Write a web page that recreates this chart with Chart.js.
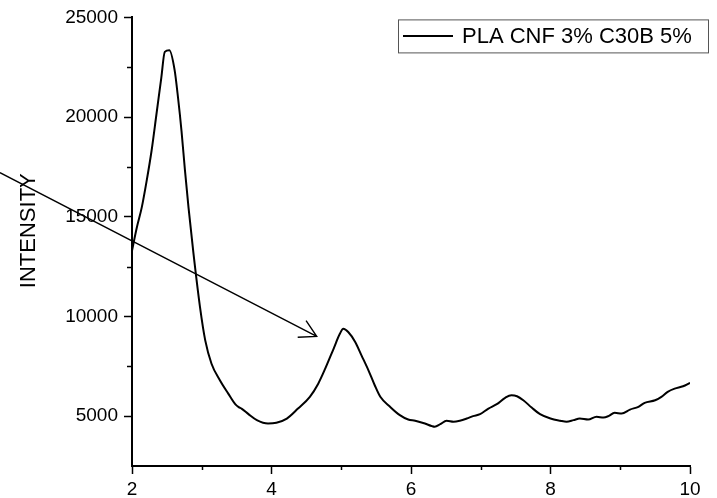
<!DOCTYPE html>
<html lang="en">
<head>
    <meta charset="UTF-8">
    <title>PLA CNF 3% C30B 5%</title>
    <script src="https://cdn.jsdelivr.net/npm/chart.js@4.4.1/dist/chart.umd.min.js"></script>
    <style>
        html, body {
            margin: 0;
            padding: 0;
            background: #fff;
        }
        #wrap {
            width: 717px;
            height: 498px;
        }
    </style>
</head>
<body>
    <div id="wrap"><canvas id="xrdChart" width="717" height="498"></canvas></div>

    <script>
        // data
        const seriesLabel = 'PLA CNF 3% C30B 5%';
        const yTitle = 'INTENSITY';
        const xValues = [2.00, 2.07, 2.14, 2.21, 2.28, 2.35, 2.42, 2.47, 2.535, 2.61, 2.66, 2.71, 2.76, 2.81, 2.88,
            2.975, 3.05, 3.14, 3.26, 3.38, 3.48, 3.53, 3.57, 3.67, 3.79, 3.95, 4.07, 4.22, 4.38, 4.55, 4.67, 4.77,
            4.89, 4.98, 5.03, 5.10, 5.20, 5.29, 5.39, 5.48, 5.56, 5.70, 5.84, 5.96, 6.06, 6.20, 6.30, 6.34, 6.42,
            6.51, 6.61, 6.70, 6.80, 6.89, 6.99, 7.11, 7.23, 7.35, 7.44, 7.52, 7.61, 7.73, 7.85, 8.00, 8.14, 8.23,
            8.33, 8.42, 8.54, 8.66, 8.76, 8.83, 8.92, 9.02, 9.14, 9.26, 9.35, 9.50, 9.59, 9.68, 9.78, 9.90, 10.00];
        const yValues = [13300, 14470, 15470, 16800, 18300, 20130, 21970, 23270, 23350, 22380, 20970, 19300, 17300, 15470, 13200,
            10470, 8800, 7630, 6800, 6130, 5600, 5450, 5380, 5100, 4800, 4630, 4670, 4880, 5380, 5970, 6630, 7380,
            8380, 9130, 9380, 9220, 8720, 8050, 7300, 6550, 5970, 5470, 5050, 4830, 4770, 4630, 4500, 4470, 4600,
            4770, 4720, 4770, 4880, 5000, 5100, 5380, 5600, 5920, 6050, 6000, 5800, 5430, 5100, 4880, 4770, 4720,
            4800, 4880, 4830, 4970, 4930, 5000, 5170, 5130, 5330, 5470, 5670, 5800, 5970, 6220, 6380, 6500, 6670];

        const xMajorTicks = [2, 4, 6, 8, 10];
        const xMinorTicks = [3, 5, 7, 9];
        const yMajorTicks = [5000, 10000, 15000, 20000, 25000];
        const yMinorTicks = [7500, 12500, 17500, 22500];

        // arrow annotation: [x, y] start and end in data units
        const arrowFrom = [0.107, 17215];
        const arrowTo = [4.648, 9000];

        const fontFamily = 'Arial, "Liberation Sans", sans-serif';
        Chart.defaults.font.family = fontFamily;
        Chart.defaults.color = '#000';

        // minor ticks, axis title, arrow and boxed legend
        const extrasPlugin = {
            id: 'extras',
            afterDraw(chart) {
                const ctx = chart.ctx;
                const xs = chart.scales.x;
                const ys = chart.scales.y;
                const area = chart.chartArea;

                ctx.save();
                ctx.strokeStyle = '#000';
                ctx.lineWidth = 1.5;
                yMinorTicks.forEach(v => {
                    const py = Math.round(ys.getPixelForValue(v)) + 0.5;
                    ctx.beginPath();
                    ctx.moveTo(area.left - 5, py);
                    ctx.lineTo(area.left, py);
                    ctx.stroke();
                });
                xMinorTicks.forEach(v => {
                    const px = Math.round(xs.getPixelForValue(v)) + 0.5;
                    ctx.beginPath();
                    ctx.moveTo(px, area.bottom);
                    ctx.lineTo(px, area.bottom + 4);
                    ctx.stroke();
                });

                // y axis title
                ctx.save();
                ctx.translate(29, (area.top + area.bottom) / 2 - 11);
                ctx.rotate(-Math.PI / 2);
                ctx.fillStyle = '#000';
                ctx.font = '22px ' + fontFamily;
                ctx.textAlign = 'center';
                ctx.textBaseline = 'middle';
                ctx.fillText(yTitle, 0, 0);
                ctx.restore();

                // arrow
                const x0 = xs.getPixelForValue(arrowFrom[0]);
                const y0 = ys.getPixelForValue(arrowFrom[1]);
                const x1 = xs.getPixelForValue(arrowTo[0]);
                const y1 = ys.getPixelForValue(arrowTo[1]);
                const ang = Math.atan2(y1 - y0, x1 - x0);
                const head = 19;
                ctx.lineWidth = 1.4;
                ctx.beginPath();
                ctx.moveTo(x0, y0);
                ctx.lineTo(x1, y1);
                ctx.moveTo(x1 + head * Math.cos(ang + Math.PI - 0.52), y1 + head * Math.sin(ang + Math.PI - 0.52));
                ctx.lineTo(x1, y1);
                ctx.lineTo(x1 + head * Math.cos(ang + Math.PI + 0.5), y1 + head * Math.sin(ang + Math.PI + 0.5));
                ctx.stroke();

                // legend box
                const lx = area.right - 292, ly = area.top + 2, lw = 310, lh = 33;
                ctx.fillStyle = '#fff';
                ctx.fillRect(lx, ly, lw, lh);
                ctx.strokeStyle = '#555';
                ctx.lineWidth = 1;
                ctx.strokeRect(lx + 0.5, ly + 0.5, lw, lh);
                ctx.strokeStyle = '#000';
                ctx.lineWidth = 2;
                ctx.beginPath();
                ctx.moveTo(lx + 5, ly + 16.5);
                ctx.lineTo(lx + 55, ly + 16.5);
                ctx.stroke();
                ctx.fillStyle = '#000';
                ctx.font = '22px ' + fontFamily;
                ctx.textBaseline = 'middle';
                ctx.textAlign = 'left';
                ctx.fillText(seriesLabel, lx + 64, ly + 17.5);
                ctx.restore();
            }
        };

        new Chart(document.getElementById('xrdChart'), {
            type: 'line',
            data: {
                datasets: [{
                    label: seriesLabel,
                    data: xValues.map((x, i) => ({ x: x, y: yValues[i] })),
                    borderColor: '#000',
                    borderWidth: 2,
                    pointRadius: 0,
                    fill: false,
                    cubicInterpolationMode: 'monotone'
                }]
            },
            options: {
                responsive: false,
                animation: false,
                layout: {
                    padding: { left: 12, top: 16, right: 27, bottom: 0 }
                },
                plugins: {
                    legend: { display: false },
                    tooltip: { enabled: false }
                },
                scales: {
                    x: {
                        type: 'linear',
                        min: 2,
                        max: 10,
                        afterBuildTicks: s => { s.ticks = xMajorTicks.map(v => ({ value: v })); },
                        afterFit: s => { s.height = 32; },
                        border: { display: true, color: '#000', width: 2 },
                        grid: { drawOnChartArea: false, drawTicks: true, tickLength: 8, tickColor: '#000', tickWidth: 1.5 },
                        ticks: { font: { size: 19 }, padding: 4, maxRotation: 0, callback: v => String(v) }
                    },
                    y: {
                        min: 2500,
                        max: 25000,
                        afterBuildTicks: s => { s.ticks = yMajorTicks.map(v => ({ value: v })); },
                        afterFit: s => { s.width = 120; },
                        border: { display: true, color: '#000', width: 2 },
                        grid: { drawOnChartArea: false, drawTicks: true, tickLength: 8, tickColor: '#000', tickWidth: 1.5 },
                        ticks: { font: { size: 19 }, padding: 6, callback: v => String(v) }
                    }
                }
            },
            plugins: [extrasPlugin]
        });
    </script>
</body>
</html>
